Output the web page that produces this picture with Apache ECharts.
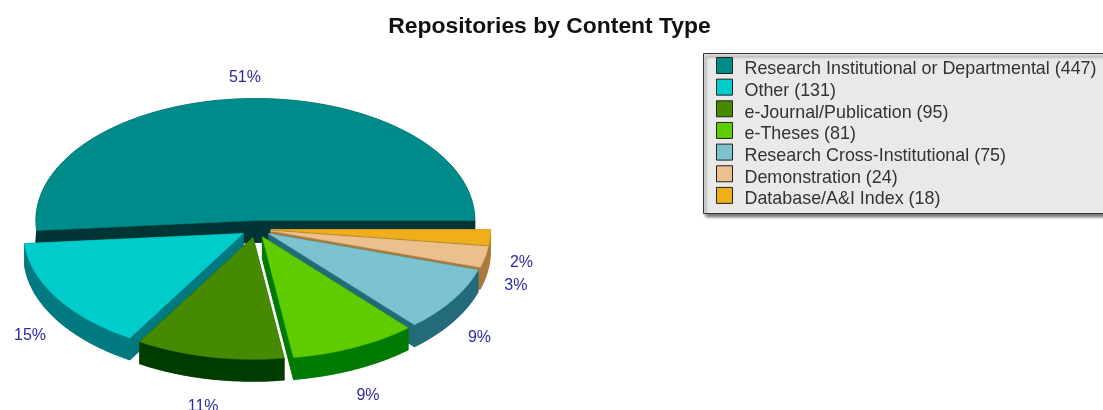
<!DOCTYPE html>
<html><head><meta charset="utf-8">
<style>html,body{margin:0;padding:0;background:#fff}#c{width:1103px;height:410px}</style>
<script src="https://cdn.jsdelivr.net/npm/echarts@6/dist/echarts.min.js"></script>
</head><body><div id="c"></div>
<script>
const categories = ['Research Institutional or Departmental','Other','e-Journal/Publication','e-Theses','Research Cross-Institutional','Demonstration','Database/A&I Index'];
const values = [447,131,95,81,75,24,18];
const topColors = ['#008b8b','#00cccc','#468a00','#5fcc00','#7cc3cf','#ebc08c','#efaf1a'];
const wallColors = ['#003535','#007a80','#003c00','#007a00','#236b78','#a97a3f','#a97a2c'];

const CX=256, CY=229, RX=219.5, RY=122, DEPTH=22, EX=15, EY=8.5;
const total = values.reduce((a,b)=>a+b,0);
let acc = 0;
const slices = values.map(v=>{const s=acc/total*2*Math.PI; acc+=v; const e=acc/total*2*Math.PI; return {s,e,m:(s+e)/2};});
const depthRank = slices.map((d,i)=>[Math.sin(d.m),i]).sort((a,b)=>b[0]-a[0]).map(d=>d[1]);

function renderSlice(i, api){
  const d = slices[i];
  const ax = CX+EX*Math.cos(d.m), ay = CY-EY*Math.sin(d.m);
  const arc=[];
  const n=Math.max(2,Math.ceil((d.e-d.s)/(Math.PI/180)));
  for(let k=0;k<=n;k++){const t=d.s+(d.e-d.s)*k/n; arc.push([ax+RX*Math.cos(t), ay-RY*Math.sin(t)]);}
  const down=p=>[p[0],p[1]+DEPTH];
  const top=[[ax,ay],...arc];
  const wall=wallColors[i];
  const poly=(pts,fill)=>({type:'polygon',shape:{points:pts},style:{fill,stroke:fill,lineWidth:0.5}});
  const first=arc[0], last=arc[arc.length-1];
  const apex=[ax,ay];
  const pct=Math.round(api.value(0)/total*100)+'%';
  const up=Math.sin(d.m)>0;
  const lx=CX+266*Math.cos(d.m);
  const ly=CY-158*Math.sin(d.m)+(up?6:DEPTH+1);
  return {type:'group',children:[
    poly(top.map(down),wall),
    poly([apex,first,down(first),down(apex)],wall),
    poly([apex,last,down(last),down(apex)],wall),
    poly([...arc,...arc.map(down).reverse()],wall),
    poly(top,topColors[i]),
    {type:'text',x:lx,y:ly,style:{text:pct,fill:'#2b2b9c',font:'16px "Liberation Sans"',align:'center',verticalAlign:'middle'}}
  ]};
}

const names = categories.map((c,i)=>c+' ('+values[i]+')');
const option = {
  animation:false,
  backgroundColor:'#fff',
  title:{text:'Repositories by Content Type',left:544.5,top:10,textAlign:'center',
    textStyle:{fontFamily:'Liberation Sans',fontWeight:'bold',fontSize:22.9,color:'#111'}},
  graphic:[{type:'rect',z:1,silent:true,shape:{x:703.5,y:53.5,width:420,height:160},
    style:{fill:'#e9e9e9',stroke:'#333',lineWidth:1,shadowColor:'rgba(0,0,0,0.55)',shadowBlur:3,shadowOffsetX:2,shadowOffsetY:3}}],
  legend:{
    data:names, orient:'vertical', left:716, top:57, z:10,
    padding:0, itemWidth:16, itemHeight:24, itemGap:-3.35,
    icon:'path://M0 0H16V16H0Z M0 24',
    itemStyle:{borderColor:'#222',borderWidth:1},
    selectedMode:false,
    textStyle:{fontFamily:'Liberation Sans',fontSize:17.9,lineHeight:18,color:'#333',padding:[0,0,0,7]}
  },
  series: names.map((name,i)=>({
    type:'custom', name, coordinateSystem:'none',
    z:2+depthRank.indexOf(i),
    itemStyle:{color:topColors[i]},
    data:[[values[i]]],
    renderItem:(p,api)=>renderSlice(i,api)
  }))
};
echarts.init(document.getElementById('c'),null,{renderer:'canvas'}).setOption(option);
</script></body></html>
